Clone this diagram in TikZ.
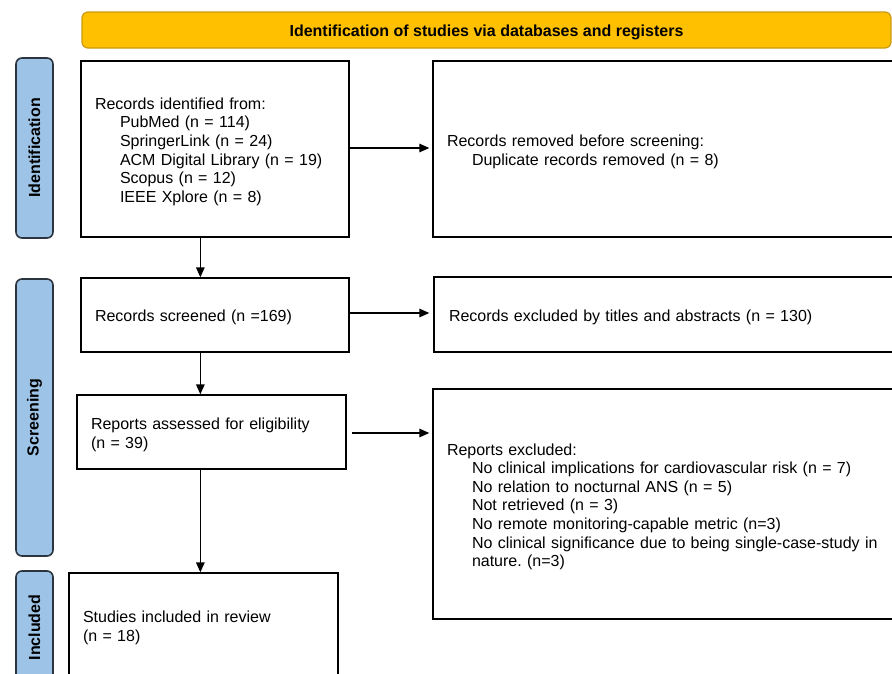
\documentclass[tikz,border=0pt]{standalone}
\usepackage{fontspec}
\setmainfont{Liberation Sans}
\usetikzlibrary{arrows.meta,calc}
\definecolor{bannerfill}{HTML}{FFC000}
\definecolor{bannerdraw}{HTML}{C89B10}
\definecolor{sidefill}{HTML}{9DC3E6}
\definecolor{sidedraw}{HTML}{2B3540}
\frenchspacing
\begin{document}
\begin{tikzpicture}[x=1pt,y=-1pt,
  every node/.style={font=\fontsize{16}{18.6}\selectfont},
  box/.style={draw=black,line width=1.3pt,fill=white,align=left,inner xsep=14pt,inner ysep=0pt,anchor=center,
    execute at begin node={\rule{0pt}{17pt}}},
  side/.style={draw=sidedraw,line width=1.6pt,fill=sidefill,rounded corners=6pt,rotate=90,inner sep=0pt,
    font=\bfseries\fontsize{16}{18.6}\selectfont},
  banner/.style={draw=bannerdraw,line width=1.2pt,fill=bannerfill,rounded corners=6pt,inner sep=0pt,
    font=\bfseries\fontsize{16}{18.6}\selectfont,execute at begin node={\rule{0pt}{17pt}}},
  arr/.style={line width=1.4pt,-{Triangle[length=10pt,width=8.5pt]}}
]
\clip (0,0) rectangle (892,673);
\fill[white] (0,0) rectangle (892,673);
\def\ind{\hspace*{25pt}}
% banner
\node[banner,minimum width=809pt,minimum height=36pt] (ban) at (486.5,30) {Identification of studies via databases and registers};
% side labels
\node[side,minimum width=180pt,minimum height=37pt] (sid) at (34.5,148) {Identification};
\node[side,minimum width=277pt,minimum height=37pt] (ssc) at (34.5,417.5) {Screening};
\node[side,minimum width=113pt,minimum height=37pt] (sin) at (34.5,627.5) {Included};
% boxes
\node[box,minimum width=268pt,minimum height=176pt,text width=240pt] (b1) at (215,149)
 {Records identified from:\\ \ind PubMed (n = 114)\\ \ind SpringerLink (n = 24)\\ \ind ACM Digital Library (n = 19)\\ \ind Scopus (n = 12)\\ \ind IEEE Xplore (n = 8)};
\node[box,minimum width=480pt,minimum height=176pt,text width=452pt] (b2) at (673,149)
 {Records removed before screening:\\ \ind Duplicate records removed (n = 8)};
\node[box,minimum width=268pt,minimum height=74pt,text width=240pt] (b3) at (215,315)
 {Records screened (n =169)};
\node[box,minimum width=480pt,minimum height=75pt,text width=450pt,inner xsep=15pt] (b4) at (674,314.5)
 {Records excluded by titles and abstracts (n = 130)};
\node[box,minimum width=269pt,minimum height=74pt,text width=241pt] (b5) at (211.5,432)
 {Reports assessed for eligibility\\(n = 39)};
\node[box,minimum width=480pt,minimum height=230pt,text width=452pt] (b6) at (673,504)
 {Reports excluded:\\ \ind No clinical implications for cardiovascular risk (n = 7)\\ \ind No relation to nocturnal ANS (n = 5)\\ \ind Not retrieved (n = 3)\\ \ind No remote monitoring-capable metric (n=3)\\ \ind No clinical significance due to being single-case-study in\\ \ind nature. (n=3)};
\node[box,minimum width=269pt,minimum height=104pt,text width=241pt] (b7) at (203.5,625)
 {Studies included in review\\(n = 18)};
% connector end points
\coordinate (a1) at ($(b1.east)+(0,-1)$);
\coordinate (a3) at ($(b3.east)+(0,-2)$);
\coordinate (a5) at ($(b5.east)+(0,1)$);
% connectors
\draw[arr,shorten >=3pt] (a1) -- (a1 -| b2.west);
\draw[arr,shorten >=4pt] (a3) -- (a3 -| b4.west);
\draw[arr,shorten >=3pt,shorten <=5pt] (a5) -- (a5 -| b6.west);
\draw[arr] ($(b1.south west)+(120,0)$) -- ($(b3.north west)+(120,0)$);
\draw[arr] ($(b3.south west)+(120,0)$) -- ($(b5.north west)+(124,0)$);
\draw[arr] ($(b5.south west)+(124,0)$) -- ($(b7.north west)+(132,0)$);
\end{tikzpicture}
\end{document}
